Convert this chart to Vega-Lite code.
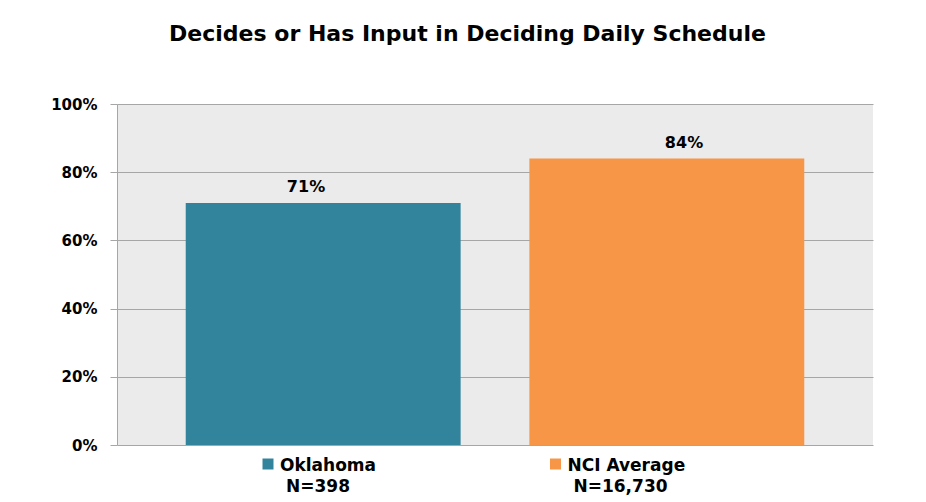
{
  "$schema": "https://vega.github.io/schema/vega-lite/v6.json",
  "width": 756,
  "height": 341,
  "autosize": {"type": "none"},
  "padding": {"left": 117, "top": 104, "right": 53, "bottom": 57},
  "background": "white",
  "config": {
    "view": {"fill": "#EBEBEB", "stroke": null},
    "font": "DejaVu Sans"
  },
  "title": {
    "text": "Decides or Has Input in Deciding Daily Schedule",
    "font": "DejaVu Sans",
    "fontSize": 22,
    "fontWeight": "bold",
    "color": "#000000",
    "baseline": "alphabetic",
    "dx": -27.5,
    "offset": 34
  },
  "data": {
    "values": [
      {"group": "Oklahoma", "n": "N=398", "value": 0.71},
      {"group": "NCI Average", "n": "N=16,730", "value": 0.84}
    ]
  },
  "layer": [
    {
      "mark": {"type": "bar"},
      "encoding": {
        "x": {"field": "group", "type": "nominal", "sort": null, "scale": {"paddingInner": 0.2, "paddingOuter": 0.2}, "axis": null},
        "y": {
          "field": "value",
          "type": "quantitative",
          "scale": {"domain": [0, 1]},
          "axis": {
            "values": [0, 0.2, 0.4, 0.6, 0.8, 1],
            "format": ".0%",
            "title": null,
            "grid": true,
            "gridColor": "#A6A6A6",
            "domainColor": "#A6A6A6",
            "tickColor": "#A6A6A6",
            "tickSize": 7,
            "labelFont": "DejaVu Sans",
            "labelFontSize": 15,
            "labelFontWeight": "bold",
            "labelColor": "#000000",
            "labelPadding": 13
          }
        },
        "color": {"field": "group", "type": "nominal", "scale": {"domain": ["Oklahoma", "NCI Average"], "range": ["#32849C", "#F79646"]}, "legend": null}
      }
    },
    {
      "mark": {"type": "text", "baseline": "alphabetic", "dy": -11, "fontSize": 16, "fontWeight": "bold", "color": "#000000"},
      "encoding": {
        "x": {"field": "group", "type": "nominal", "sort": null, "scale": {"paddingInner": 0.2, "paddingOuter": 0.2}, "axis": null},
        "y": {"field": "value", "type": "quantitative"},
        "text": {"field": "value", "type": "quantitative", "format": ".0%"}
      }
    },
    {
      "mark": {"type": "point", "shape": "square", "filled": true, "size": 121, "opacity": 1, "yOffset": 19},
      "encoding": {
        "x": {"field": "group", "type": "nominal", "sort": null, "scale": {"type": "point", "padding": 0.8148, "align": 0.3223}, "axis": null},
        "y": {"datum": 0},
        "color": {"field": "group", "type": "nominal"}
      }
    },
    {
      "mark": {"type": "text", "align": "left", "baseline": "alphabetic", "dx": 12, "dy": 26, "fontSize": 17, "fontWeight": "bold", "color": "#000000"},
      "encoding": {
        "x": {"field": "group", "type": "nominal", "sort": null, "scale": {"type": "point", "padding": 0.8148, "align": 0.3223}, "axis": null},
        "y": {"datum": 0},
        "text": {"field": "group"}
      }
    },
    {
      "mark": {"type": "text", "align": "left", "baseline": "alphabetic", "dx": 18, "dy": 47, "fontSize": 17, "fontWeight": "bold", "color": "#000000"},
      "encoding": {
        "x": {"field": "group", "type": "nominal", "sort": null, "scale": {"type": "point", "padding": 0.8148, "align": 0.3223}, "axis": null},
        "y": {"datum": 0},
        "text": {"field": "n"}
      }
    }
  ],
  "resolve": {"scale": {"x": "independent"}}
}
